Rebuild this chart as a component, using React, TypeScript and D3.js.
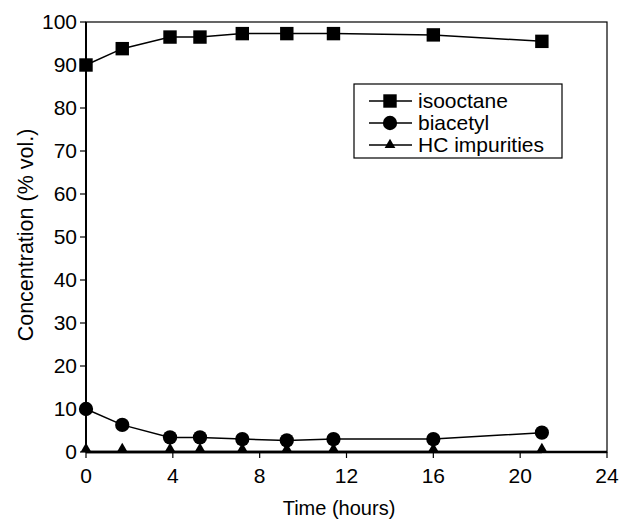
import { useEffect, useRef } from 'react';
import * as d3 from 'd3';

const times = [0, 1.67, 3.87, 5.25, 7.2, 9.25, 11.4, 16, 21];
const isooctane = [90, 93.8, 96.5, 96.5, 97.3, 97.3, 97.3, 97.0, 95.5];
const biacetyl = [10, 6.3, 3.4, 3.4, 3.0, 2.7, 3.0, 3.0, 4.5];
const hcImpurities = [0, 0, 0, 0, 0, 0, 0, 0, 0];
const xTicks = [0, 4, 8, 12, 16, 20, 24];
const yTicks = [0, 10, 20, 30, 40, 50, 60, 70, 80, 90, 100];
const seriesNames = ['isooctane', 'biacetyl', 'HC impurities'];

export default function App() {
  const svgRef = useRef<SVGSVGElement>(null);

  useEffect(() => {
    if (!svgRef.current) return;
    const width = 621;
    const height = 525;
    const left = 86, right = 607, top = 22, bottom = 452;
    const font = 'Arial, "Liberation Sans", sans-serif';

    const svg = d3.select(svgRef.current);
    svg.selectAll('*').remove();
    svg.attr('width', width).attr('height', height);

    const x = d3.scaleLinear().domain([0, 24]).range([left, right]);
    const y = d3.scaleLinear().domain([0, 100]).range([bottom, top]);

    // frame
    svg.append('rect')
      .attr('x', left).attr('y', top)
      .attr('width', right - left).attr('height', bottom - top)
      .attr('fill', 'none').attr('stroke', '#000').attr('stroke-width', 1.2);

    // y axis
    const yg = svg.append('g').attr('font-family', font).attr('font-size', 21);
    yTicks.forEach(t => {
      yg.append('line')
        .attr('x1', left - 6).attr('x2', left)
        .attr('y1', y(t)).attr('y2', y(t))
        .attr('stroke', '#000').attr('stroke-width', 1.2);
      yg.append('text')
        .attr('x', left - 9).attr('y', y(t))
        .attr('dy', '0.35em').attr('text-anchor', 'end')
        .text(t);
    });
    svg.append('line')
      .attr('x1', left).attr('x2', left).attr('y1', top).attr('y2', bottom)
      .attr('stroke', '#000').attr('stroke-width', 2);

    // x axis
    const xg = svg.append('g').attr('font-family', font).attr('font-size', 21);
    xTicks.forEach(t => {
      xg.append('line')
        .attr('x1', x(t)).attr('x2', x(t))
        .attr('y1', bottom).attr('y2', bottom + 6)
        .attr('stroke', '#000').attr('stroke-width', 1.2);
      xg.append('text')
        .attr('x', x(t)).attr('y', bottom + 31)
        .attr('text-anchor', 'middle')
        .text(t);
    });
    svg.append('line')
      .attr('x1', left).attr('x2', right).attr('y1', bottom).attr('y2', bottom)
      .attr('stroke', '#000').attr('stroke-width', 2.5);

    // axis titles
    svg.append('text')
      .attr('x', 339).attr('y', 515)
      .attr('text-anchor', 'middle')
      .attr('font-family', font).attr('font-size', 20)
      .text('Time (hours)');
    svg.append('text')
      .attr('transform', `translate(33, 235) rotate(-90)`)
      .attr('text-anchor', 'middle')
      .attr('font-family', font).attr('font-size', 21.5)
      .text('Concentration (% vol.)');

    const line = d3.line<number>()
      .x((_, i) => x(times[i]))
      .y(d => y(d));

    const square = d3.symbol().type(d3.symbolSquare).size(180);
    const circle = d3.symbol().type(d3.symbolCircle).size(160);
    const triangle = d3.symbol().type(d3.symbolTriangle).size(50);
    const symbols = [square, circle, triangle];
    const allSeries = [isooctane, biacetyl, hcImpurities];

    allSeries.forEach((vals, si) => {
      svg.append('path')
        .datum(vals)
        .attr('d', line)
        .attr('fill', 'none').attr('stroke', '#000')
        .attr('stroke-width', si === 2 ? 2.5 : 1.5);
      svg.selectAll(`.m${si}`)
        .data(vals)
        .enter()
        .append('path')
        .attr('class', `m${si}`)
        .attr('d', symbols[si] as any)
        .attr('transform', (d, i) => `translate(${x(times[i])}, ${y(d) - (si === 2 ? 3 : 0)})`)
        .attr('fill', '#000');
    });

    // legend
    const lg = svg.append('g');
    lg.append('rect')
      .attr('x', 354).attr('y', 84).attr('width', 208).attr('height', 74)
      .attr('fill', '#fff').attr('stroke', '#000').attr('stroke-width', 1.2);
    seriesNames.forEach((name, i) => {
      const ly = 101 + i * 22;
      lg.append('line')
        .attr('x1', 369).attr('x2', 412).attr('y1', ly).attr('y2', ly)
        .attr('stroke', '#000').attr('stroke-width', 1.5);
      lg.append('path')
        .attr('d', symbols[i] as any)
        .attr('transform', `translate(390, ${ly})`)
        .attr('fill', '#000');
      lg.append('text')
        .attr('x', 418).attr('y', ly).attr('dy', '0.35em')
        .attr('font-family', font).attr('font-size', 21)
        .text(name);
    });
  }, []);

  return (
    <div style={{ position: 'absolute', left: 0, top: 0 }}>
      <svg ref={svgRef} />
    </div>
  );
}
